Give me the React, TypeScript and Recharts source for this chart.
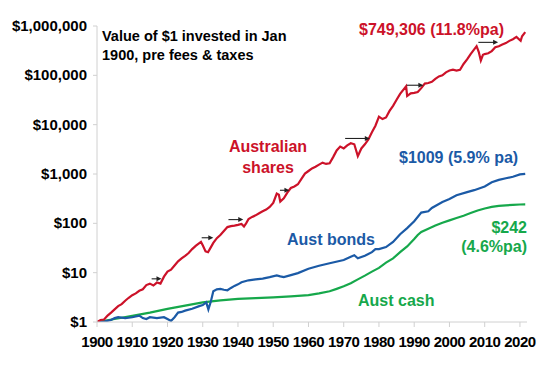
import React from "react";
import { LineChart, Line, XAxis, YAxis, ReferenceLine } from "recharts";

// Australian shares, value of $1 from Jan 1900
const sharesYears = [
  1900, 1901, 1902, 1903, 1904, 1905, 1906, 1907, 1908, 1909, 1910, 1911, 1912, 1913, 1914, 1915, 1916, 1917, 1918,
  1919, 1920, 1921, 1922, 1923, 1924, 1925, 1926, 1927, 1928, 1929.5, 1930, 1930.8, 1931.5, 1932, 1933, 1934, 1935,
  1936, 1937, 1938, 1939, 1940, 1941, 1941.7, 1942.3, 1943, 1944, 1945, 1946, 1947, 1948, 1949, 1950, 1951, 1951.6,
  1952, 1953, 1954, 1955, 1956, 1957, 1958, 1959, 1960, 1961, 1962, 1963, 1964, 1965, 1966, 1967, 1968, 1969, 1970,
  1971, 1972, 1973, 1974, 1975, 1976, 1977, 1978, 1979, 1980, 1981, 1982, 1983, 1984, 1985, 1986, 1987.7, 1988, 1989,
  1990, 1991, 1992, 1993, 1994, 1995, 1996, 1997, 1998, 1999, 2000, 2001, 2002, 2003, 2004, 2005, 2006, 2007.7,
  2008.3, 2008.9, 2009.5, 2010, 2011, 2012, 2013, 2014, 2015, 2016, 2017, 2018, 2019, 2020.2, 2020.6, 2021.5,
];
const sharesValues = [
  1.0, 1.1, 1.12, 1.35, 1.55, 1.8, 2.1, 2.3, 2.7, 3.1, 3.5, 3.8, 4.3, 4.6, 5.6, 6.0, 5.5, 6.3, 6.0, 8.3, 10.5, 11.5,
  14, 17, 19.5, 22, 25, 30, 35, 42, 36, 27, 26, 30, 40, 50, 58, 70, 84, 88, 90, 93, 97, 86, 100, 122, 135, 145, 160,
  175, 190, 215, 260, 400, 380, 275, 320, 420, 520, 560, 620, 800, 1020, 1150, 1300, 1400, 1550, 1700, 1600, 1650,
  2200, 3000, 3600, 3300, 3800, 4200, 4000, 2300, 3300, 4000, 5000, 7000, 9500, 14500, 13000, 14000, 19000, 24000,
  32000, 42000, 60000, 38000, 43000, 44000, 46000, 55000, 68000, 70000, 74000, 85000, 95000, 100000, 115000, 125000,
  130000, 125000, 130000, 170000, 210000, 270000, 390000, 300000, 200000, 260000, 270000, 280000, 310000, 370000,
  390000, 420000, 450000, 500000, 540000, 600000, 500000, 620000, 749306,
];

// Aust bonds
const bondsYears = [
  1900, 1902, 1904, 1905, 1906, 1908, 1910, 1912, 1913, 1914, 1915, 1917, 1919, 1920, 1921, 1922, 1923, 1924, 1925,
  1927, 1929, 1930, 1931, 1931.6, 1932.3, 1933, 1934, 1935, 1936, 1937, 1938, 1939, 1940, 1941, 1943, 1945, 1947,
  1949, 1951, 1952, 1953, 1955, 1957, 1960, 1963, 1966, 1970, 1972, 1973, 1974, 1976, 1978, 1979, 1980, 1982, 1984,
  1986, 1988, 1990, 1992, 1994, 1995, 1998, 2000, 2002, 2005, 2007, 2010, 2012, 2014, 2016, 2018, 2020, 2021.5,
];
const bondsValues = [
  1.0, 1.02, 1.1, 1.2, 1.25, 1.2, 1.25, 1.35, 1.2, 1.15, 1.25, 1.2, 1.25, 1.15, 1.05, 1.25, 1.55, 1.6, 1.7, 1.85, 2.1,
  2.2, 2.5, 1.8, 2.6, 4.2, 4.6, 4.7, 4.5, 4.4, 4.9, 5.4, 5.8, 6.4, 7.0, 7.3, 7.6, 8.1, 8.8, 8.4, 8.1, 8.9, 9.8, 12,
  13.8, 15.5, 18, 21, 22.5, 19.5, 22, 26, 30, 30, 33, 42, 60, 80, 110, 165, 175, 205, 270, 310, 370, 430, 470, 560,
  680, 760, 820, 880, 980, 1009,
];

// Aust cash
const cashYears = [
  1900, 1905, 1910, 1915, 1920, 1925, 1930, 1935, 1940, 1945, 1950, 1955, 1960, 1963, 1966, 1968, 1970, 1972, 1974,
  1976, 1978, 1980, 1982, 1984, 1986, 1988, 1990, 1991, 1992, 1994, 1996, 1998, 2000, 2002, 2004, 2006, 2008, 2010,
  2012, 2014, 2016, 2018, 2020, 2021.5,
];
const cashValues = [
  1.0, 1.15, 1.33, 1.55, 1.85, 2.15, 2.5, 2.75, 2.95, 3.05, 3.15, 3.3, 3.5, 3.8, 4.2, 4.7, 5.3, 6.1, 7.3, 8.7, 10.5,
  12.5, 16, 19.5, 26, 34, 48, 58, 67, 78, 90, 103, 115, 128, 143, 162, 182, 200, 215, 225, 232, 237, 241, 242,
];

const xTicks = [1900, 1910, 1920, 1930, 1940, 1950, 1960, 1970, 1980, 1990, 2000, 2010, 2020];
const yTicks = [1, 10, 100, 1000, 10000, 100000, 1000000];

// flat periods marked with arrows: [fromYear, toYear, level]
const arrows = [
  [1915.5, 1918.3, 7.5],
  [1929.7, 1933, 51],
  [1937.3, 1941.5, 119],
  [1951.9, 1954.6, 468],
  [1970.4, 1977.4, 5250],
  [1987.9, 1992.6, 63000],
  [2008.2, 2013.8, 466000],
];

const RED = "#cc1229";
const BLUE = "#1b5aa6";
const GREEN = "#16a84b";
const FONT = "'Liberation Sans', Arial, sans-serif";

const toRows = (years: number[], values: number[]) => years.map((year, i) => ({ year, v: values[i] }));

const sharesData = toRows(sharesYears, sharesValues);
const bondsData = toRows(bondsYears, bondsValues);
const cashData = toRows(cashYears, cashValues);

const fmtDollar = (v: number) => "$" + v.toLocaleString("en-US");

const XTick = (props: any) => {
  const { x, y, payload } = props;
  return (
    <text
      x={x}
      y={y + 17}
      textAnchor="middle"
      fill="#000"
      fontSize={15}
      fontWeight={700}
      fontFamily={FONT}
      letterSpacing={-0.5}
    >
      {payload.value}
    </text>
  );
};

const YTick = (props: any) => {
  const { x, y, payload } = props;
  return (
    <text x={x} y={y + 5} textAnchor="end" fill="#000" fontSize={15} fontWeight={700} fontFamily={FONT}>
      {fmtDollar(payload.value)}
    </text>
  );
};

const ArrowShape = (props: any) => {
  const { x1, y1, x2, y2 } = props;
  if (x1 == null) return null;
  return (
    <g>
      <line x1={x1} y1={y1} x2={x2 - 4} y2={y2} stroke="#222" strokeWidth={1.1} />
      <polygon points={`${x2},${y2} ${x2 - 5},${y2 - 2.5} ${x2 - 5},${y2 + 2.5}`} fill="#222" />
    </g>
  );
};

export default function App() {
  const txt = { fontFamily: FONT, fontWeight: 700 } as const;
  return (
    <div style={{ position: "absolute", left: 0, top: 0, width: 548, height: 366, background: "#fff" }}>
      <LineChart width={548} height={366} margin={{ top: 26, right: 21, bottom: 14, left: 0 }}>
        <XAxis
          dataKey="year"
          type="number"
          domain={[1900, 2022]}
          ticks={xTicks}
          interval={0}
          allowDataOverflow
          stroke="#d0d0d0"
          tickSize={5}
          tickMargin={3}
          height={30}
          tick={<XTick />}
        />
        <YAxis
          type="number"
          scale="log"
          domain={[1, 1000000]}
          ticks={yTicks}
          interval={0}
          allowDataOverflow
          width={97}
          stroke="#d0d0d0"
          tickSize={4}
          tickMargin={6}
          tick={<YTick />}
        />
        <Line data={cashData} dataKey="v" stroke={GREEN} strokeWidth={2.2} dot={false} isAnimationActive={false} />
        <Line data={bondsData} dataKey="v" stroke={BLUE} strokeWidth={2.2} dot={false} isAnimationActive={false} />
        <Line data={sharesData} dataKey="v" stroke={RED} strokeWidth={2.2} dot={false} isAnimationActive={false} />
        {arrows.map(([a, b, lvl], i) => (
          <ReferenceLine
            key={i}
            segment={[
              { x: a, y: lvl },
              { x: b, y: lvl },
            ]}
            ifOverflow="visible"
            shape={ArrowShape}
          />
        ))}
      </LineChart>

      {/* ANNOTATIONS */}
      <svg width={548} height={366} style={{ position: "absolute", left: 0, top: 0, pointerEvents: "none" }}>
        <text x={102} y={41} fontSize={14.5} fill="#000" style={txt}>
          Value of $1 invested in Jan
        </text>
        <text x={102} y={60} fontSize={14.5} fill="#000" style={txt}>
          1900, pre fees &amp; taxes
        </text>
        <text x={359} y={35} fontSize={16} fill={RED} style={txt}>
          $749,306 (11.8%pa)
        </text>
        <text x={268} y={152} fontSize={16} fill={RED} textAnchor="middle" style={txt}>
          Australian
        </text>
        <text x={268} y={173} fontSize={16} fill={RED} textAnchor="middle" style={txt}>
          shares
        </text>
        <text x={399} y={163} fontSize={16} fill={BLUE} style={txt}>
          $1009 (5.9% pa)
        </text>
        <text x={287} y={245} fontSize={16} fill={BLUE} style={txt}>
          Aust bonds
        </text>
        <text x={358} y={306} fontSize={16} fill={GREEN} style={txt}>
          Aust cash
        </text>
        <text x={527} y={233} fontSize={16} fill={GREEN} textAnchor="end" style={txt}>
          $242
        </text>
        <text x={527} y={252} fontSize={16} fill={GREEN} textAnchor="end" style={txt}>
          (4.6%pa)
        </text>
      </svg>
    </div>
  );
}
